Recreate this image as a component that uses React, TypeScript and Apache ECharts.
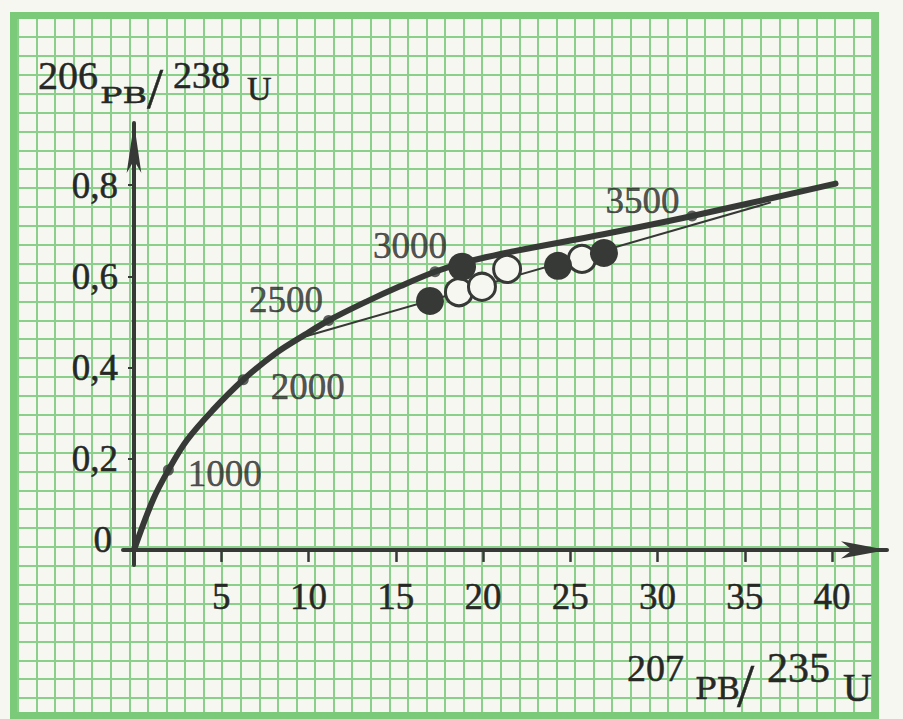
import React, { useEffect, useRef } from 'react';
import * as echarts from 'echarts';

// Concordia curve (206Pb/238U vs 207Pb/235U)
const concordiaX = [0, 1.09, 1.97, 3.04, 4.53, 6.26, 8.08, 9.8, 11.15, 13.35, 15.24, 17.25, 19.1, 21.8, 26.9, 31.98, 40.2];
const concordiaY = [0, 0.11, 0.175, 0.241, 0.307, 0.373, 0.43, 0.472, 0.503, 0.545, 0.578, 0.61, 0.632, 0.655, 0.692, 0.732, 0.803];

// Age markers on the concordia (Ma)
const ageLabels = ['1000', '2000', '2500', '3000', '3500'];
const ageX = [1.97, 6.26, 11.15, 17.25, 31.98];
const ageY = [0.175, 0.373, 0.503, 0.61, 0.732];

// Discordia (thin line)
const discordiaX = [9.9, 36.5];
const discordiaY = [0.469, 0.762];

// Analyses: filled and open circles
const filledX = [16.96, 18.8, 24.3, 26.93];
const filledY = [0.546, 0.621, 0.623, 0.651];
const openX = [18.62, 19.94, 21.38, 25.67];
const openY = [0.565, 0.577, 0.616, 0.638];

// Axis ticks
const xTickValues = [5, 10, 15, 20, 25, 30, 35, 40];
const xTickLabels = ['5', '10', '15', '20', '25', '30', '35', '40'];
const yTickValues = [0, 0.2, 0.4, 0.6, 0.8];
const yTickLabels = ['0', '0,2', '0,4', '0,6', '0,8'];

const INK = '#363936';
const TEXT = '#262826';
const PAPER = '#f7f7f2';
const GRID_GREEN = '#8ad08a';
const BORDER_GREEN = '#7bca79';
const SERIF = '"Liberation Serif", "Times New Roman", serif';
const WIDE = '"DejaVu Serif", serif';
const TEXT_STROKE = 0.5;

const agePlacement: any[] = [
  { position: 'right', distance: 14, offset: [0, 3] },
  { position: 'right', distance: 22, offset: [0, 7] },
  { position: 'left', distance: 0, offset: [0, -21] },
  { position: 'top', distance: 2, offset: [-25, 0] },
  { position: 'left', distance: 7, offset: [0, -16] },
];

function findLabel(values: number[], labels: string[], v: number) {
  for (let i = 0; i < values.length; i++) {
    if (Math.abs(values[i] - v) < 1e-6) return labels[i];
  }
  return '';
}

function txt(text: string, x: number, y: number, size: number, family: string, scaleX = 1) {
  return {
    type: 'text',
    x,
    y,
    scaleX,
    z: 20,
    style: {
      text,
      fontSize: size,
      fontFamily: family,
      fill: TEXT,
      stroke: TEXT,
      lineWidth: TEXT_STROKE,
      align: 'left',
      verticalAlign: 'middle',
    },
  };
}

export default function App() {
  const ref = useRef<HTMLDivElement>(null);
  useEffect(() => {
    if (!ref.current) return;
    const chart = echarts.init(ref.current, undefined, { renderer: 'svg' });
    const labelFont = {
      color: TEXT,
      fontSize: 37,
      fontFamily: SERIF,
      textBorderColor: TEXT,
      textBorderWidth: TEXT_STROKE,
    };
    const option: any = {
      animation: false,
      backgroundColor: PAPER,
      grid: [
        { left: 123, top: 123, width: 764, height: 442 },
        { left: 17.93, top: 18.11, width: 854.2, height: 698.9 },
      ],
      xAxis: [
        {
          gridIndex: 0,
          type: 'value',
          min: -0.63,
          max: 43.15,
          z: 5,
          axisLine: {
            onZero: true,
            symbol: ['none', 'arrow'],
            symbolSize: [13, 46],
            lineStyle: { color: INK, width: 4 },
          },
          axisTick: { show: true, customValues: xTickValues, length: 12, lineStyle: { color: INK, width: 2.5 } },
          axisLabel: {
            customValues: xTickValues,
            formatter: (v: number) => findLabel(xTickValues, xTickLabels, v),
            margin: 13,
            ...labelFont,
          },
          splitLine: { show: false },
        },
        {
          gridIndex: 1,
          type: 'value',
          min: 0,
          max: 46,
          interval: 1,
          axisLine: { show: false },
          axisTick: { show: false },
          axisLabel: { show: false },
          splitLine: { show: true, lineStyle: { color: GRID_GREEN, width: 2 } },
        },
      ],
      yAxis: [
        {
          gridIndex: 0,
          type: 'value',
          min: -0.033,
          max: 0.936,
          z: 5,
          axisLine: {
            onZero: true,
            symbol: ['none', 'arrow'],
            symbolSize: [11, 50],
            lineStyle: { color: INK, width: 4 },
          },
          axisTick: { show: true, customValues: [0.2, 0.4, 0.6, 0.8], length: 6, lineStyle: { color: INK, width: 2 } },
          axisLabel: {
            customValues: yTickValues,
            formatter: (v: number) => {
              const s = findLabel(yTickValues, yTickLabels, v);
              return Math.abs(v) < 1e-6 ? '{z|' + s + '}' : s;
            },
            margin: 5,
            ...labelFont,
            rich: {
              z: { ...labelFont, padding: [0, 6, 20, 0] },
            },
          },
          splitLine: { show: false },
        },
        {
          gridIndex: 1,
          type: 'value',
          min: 0,
          max: 37,
          interval: 1,
          axisLine: { show: false },
          axisTick: { show: false },
          axisLabel: { show: false },
          splitLine: { show: true, lineStyle: { color: GRID_GREEN, width: 2 } },
        },
      ],
      graphic: [
        {
          type: 'rect',
          z: 1,
          shape: { x: 13.5, y: 15.5, width: 862, height: 700 },
          style: { fill: 'none', stroke: BORDER_GREEN, lineWidth: 7 },
        },
        txt('206', 38, 75, 40, SERIF),
        txt('PB', 100, 95, 23, WIDE, 1.45),
        txt('/', 147, 88, 58, SERIF),
        txt('238', 173, 75, 38, SERIF),
        txt('U', 247, 88, 34, SERIF),
        txt('207', 627, 668, 38, SERIF),
        txt('PB', 695, 689, 29, WIDE, 1.1),
        txt('/', 737, 685, 62, SERIF),
        txt('235', 767, 668, 42, SERIF),
        txt('U', 843, 687, 40, SERIF),
      ],
      series: [
        { type: 'scatter', xAxisIndex: 1, yAxisIndex: 1, data: [], silent: true },
        {
          type: 'line',
          name: 'discordia',
          data: discordiaX.map((x, i) => [x, discordiaY[i]]),
          symbol: 'none',
          lineStyle: { color: INK, width: 2 },
          z: 3,
        },
        {
          type: 'line',
          name: 'concordia',
          data: concordiaX.map((x, i) => [x, concordiaY[i]]),
          smooth: 0.35,
          symbol: 'none',
          lineStyle: { color: INK, width: 6, cap: 'round' },
          z: 4,
        },
        {
          type: 'scatter',
          name: 'ages',
          symbolSize: 11,
          itemStyle: { color: INK },
          z: 5,
          data: ageX.map((x, i) => ({
            value: [x, ageY[i]],
            label: {
              show: true,
              formatter: ageLabels[i],
              ...labelFont,
              ...agePlacement[i],
            },
          })),
        },
        {
          type: 'scatter',
          name: 'open',
          symbolSize: 27,
          itemStyle: { color: PAPER, borderColor: INK, borderWidth: 3, opacity: 1 },
          z: 6,
          data: openX.map((x, i) => [x, openY[i]]),
        },
        {
          type: 'scatter',
          name: 'filled',
          symbolSize: 28,
          itemStyle: { color: INK, opacity: 1 },
          z: 7,
          data: filledX.map((x, i) => [x, filledY[i]]),
        },
      ],
    };
    chart.setOption(option);
    return () => chart.dispose();
  }, []);
  return <div ref={ref} style={{ position: 'absolute', left: 0, top: 0, width: 903, height: 719 }} />;
}
